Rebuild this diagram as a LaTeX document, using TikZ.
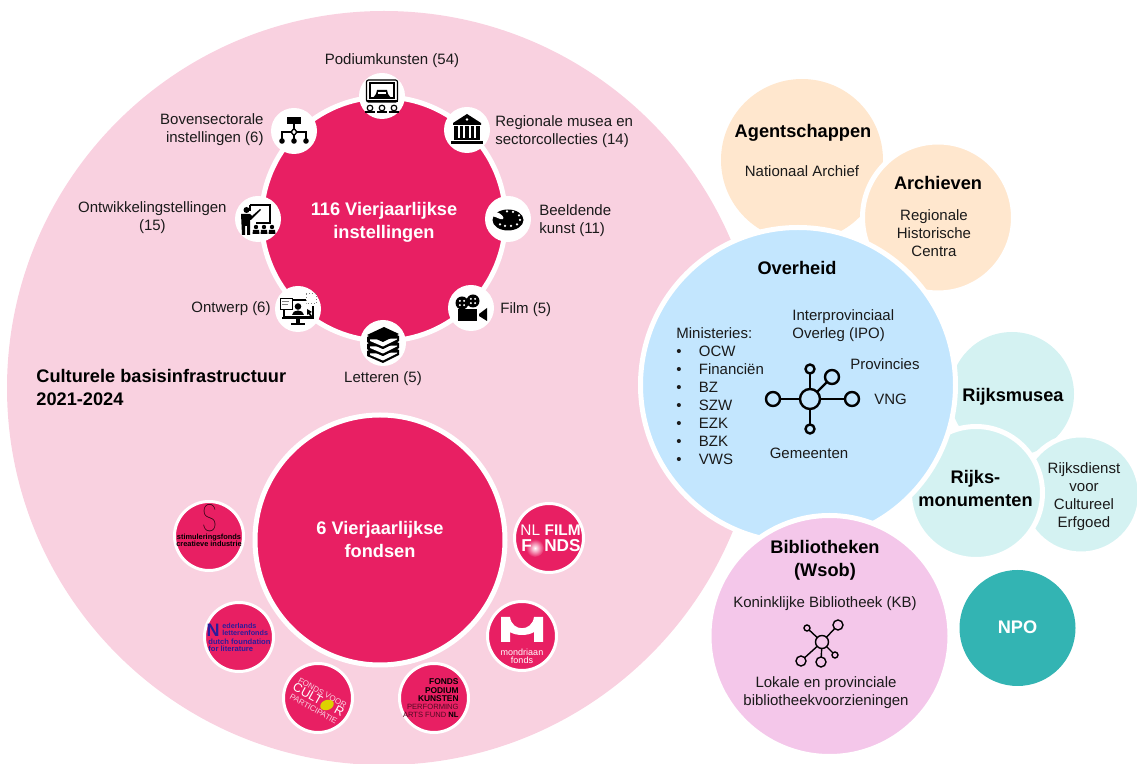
\documentclass[tikz,border=0pt]{standalone}
\usepackage{fontspec}
\setmainfont{Liberation Sans}
\newfontfamily\thinfont[UprightFont=* Thin]{Poppins}
\usetikzlibrary{positioning}
\definecolor{basispink}{HTML}{F9D1E0}
\definecolor{darkpink}{HTML}{E81F63}
\definecolor{overheidblue}{HTML}{C3E6FE}
\definecolor{archiefcream}{HTML}{FFE7CE}
\definecolor{biblilac}{HTML}{F4C7EA}
\definecolor{rijksmint}{HTML}{D4F2F2}
\definecolor{npoteal}{HTML}{33B4B3}
\definecolor{letterblue}{HTML}{2B1C9C}
\definecolor{textgray}{HTML}{1A1A1A}
\tikzset{
 bubble/.style={circle,inner sep=0pt,outer sep=0pt},
 ringed/.style={bubble,draw=white,line width=2.5pt},
 iconspot/.style={bubble,fill=white,minimum size=23pt},
 logospot/.style={bubble,draw=white,line width=1.5pt,fill=darkpink,minimum size=34.5pt},
 lbl/.style={inner sep=0pt,text=textgray,font=\fontsize{7.5}{9}\selectfont},
 head/.style={inner sep=0pt,text=black,font=\fontsize{9.1}{11.5}\selectfont\bfseries},
 whitehead/.style={head,text=white},
 hubdot/.style={circle,draw=black,fill=none,inner sep=0pt,outer sep=0pt},
 tiny/.style={inner sep=0pt,align=center}
}
\begin{document}
\begin{tikzpicture}[x=0.5pt,y=-0.5pt]
 \useasboundingbox (0,0) rectangle (1137,764);

 % big circle
 \node[bubble,fill=basispink,minimum size=377pt] (basis) at (384,388) {};
 \node[head,align=left,anchor=west] (basistitle) at (36,387) {Culturele basisinfrastructuur\\2021-2024};

 % upper circle with the icons round it
 \node[ringed,fill=darkpink,minimum size=122pt] (instellingen) at (383.5,219) {};
 \node[whitehead,align=center] (instellingentitle) at (384,222) {116 Vierjaarlijkse\\instellingen};

 \node[iconspot] (podium) at (382,96) {};
 \node[iconspot] (museum) at (467,130) {};
 \node[iconspot] (beeldend) at (508,219) {};
 \node[iconspot] (film) at (471,308) {};
 \node[iconspot] (letteren) at (383,343) {};
 \node[iconspot] (ontwerp) at (298,309) {};
 \node[iconspot] (ontwikkeling) at (258,219) {};
 \node[iconspot] (boven) at (294,131) {};

 \node[lbl,above=2.5pt of podium,xshift=5pt] {Podiumkunsten (54)};
 \node[lbl,align=left,right=2.5pt of museum,yshift=-0.75pt] {Regionale musea en\\sectorcollecties (14)};
 \node[lbl,align=left,right=4pt of beeldend,yshift=-0.75pt] {Beeldende\\kunst (11)};
 \node[lbl,right=3pt of film,yshift=-0.75pt] {Film (5)};
 \node[lbl,below=2.5pt of letteren] {Letteren (5)};
 \node[lbl,left=2pt of ontwerp] {Ontwerp (6)};
 \node[lbl,align=center,left=4pt of ontwikkeling,yshift=0.5pt] {Ontwikkelingstellingen\\(15)};
 \node[lbl,align=right,left=3.5pt of boven,yshift=0.5pt] {Bovensectorale\\instellingen (6)};

 % icon: stage with audience
 \begin{scope}[shift={(podium)},line width=0.6pt]
  \draw[rounded corners=1pt] (-15.5,-16) rectangle (15.5,6);
  \draw (-12,-13) rectangle (12,2);
  \fill (-9,2) -- (-6,-2) -- (-5,-6) -- (5,-6) -- (6,-2) -- (9,2) -- cycle;
  \fill[white] (-4,-3.5) rectangle (4,-1.5);
  \draw[line width=1.2pt] (-15.5,5) -- (15.5,5);
  \foreach \xx in {-12,0,12} {
   \draw[fill=white] (\xx,12) circle (2.8);
   \draw[line width=1pt] (\xx-5,16) -- (\xx+5,16);
  }
 \end{scope}

 % icon: organisation chart
 \begin{scope}[shift={(boven)},line width=0.7pt]
  \fill (-7,-14) rectangle (7,-7);
  \draw (0,-7) -- (0,9);
  \draw (-12,9) -- (-12,1) -- (12,1) -- (12,9);
  \draw[fill=white] (0,-2.5) -- (3,1) -- (0,4.5) -- (-3,1) -- cycle;
  \foreach \xx in {-12,0,12} \fill (\xx,10) circle (2.8);
 \end{scope}

 % icon: museum
 \begin{scope}[shift={(museum)}]
  \fill (0,-16) -- (14,-7) -- (14,-5) -- (-14,-5) -- (-14,-7) -- cycle;
  \foreach \xx in {-11,-5.5,0,5.5,11} \fill (\xx-1.6,-3.5) rectangle (\xx+1.6,8);
  \fill (-13,8) rectangle (13,10);
  \fill (-16,11) rectangle (16,14);
  \fill[white] (0,-10.5) circle (1.4);
 \end{scope}

 % icon: palette
 \begin{scope}[shift={(beeldend)}]
  \fill (0,1) ellipse (15.5 and 10.5);
  \fill[white] (-16,-3) .. controls (-11,-2) and (-8,1) .. (-5,0) .. controls (-3,-1) and (-7,-6) .. (-12,-7) -- cycle;
  \foreach \xx/\yy in {-1/-7.5,5/-7,11/-3.5,12/1,9/5.5,3/7,-3/7,-8/5.5} \fill[white] (\xx,\yy) circle (1.25);
 \end{scope}

 % icon: film camera
 \begin{scope}[shift={(film)}]
  \foreach \xx/\yy in {-9/-5,2/-7} {
   \fill (\xx,\yy) circle (6.5);
   \foreach \ang in {45,135,225,315} \fill[white] (\xx,\yy) ++(\ang:3) circle (1.1);
  }
  \fill (-13,1) rectangle (6,13);
  \fill (8,6) -- (16,0) -- (16,13) -- (8,8) -- cycle;
 \end{scope}

 % icon: books
 \begin{scope}[shift={(letteren)}]
  \foreach \dd in {14,7,0} {
   \fill (-16,-6+\dd) -- (1,-14+\dd) -- (16,-7+\dd) -- (16,-2+\dd) -- (0,6+\dd) -- (-16,-1+\dd) -- cycle;
   \fill[white] (-13,-3.5+\dd) -- (14,-4.5+\dd) -- (14,-3.5+\dd) -- (0,3.5+\dd) -- (-13,-2+\dd) -- cycle;
   \fill (-16,-8+\dd) -- (1,-16+\dd) -- (16,-9+\dd) -- (0,-1+\dd) -- cycle;
  }
 \end{scope}

 % icon: screen with person
 \begin{scope}[shift={(ontwerp)}]
  \draw[line width=1pt] (-14,-9) rectangle (15,8);
  \fill (-16,8) rectangle (16,10);
  \fill (-2,10) rectangle (2,14);
  \fill (-7,14) rectangle (7,16);
  \draw[fill=white,line width=0.5pt] (-18,-10) rectangle (-6,1);
  \draw[gray,line width=0.5pt] (-16,-7) -- (-9,-7) (-16,-4) -- (-10,-4);
  \fill (0,-2.5) circle (3.3);
  \fill (-6,6) .. controls (-6,0) and (6,0) .. (6,6) -- cycle;
  \draw[white,fill=white] (8,-14) rectangle (18,-4);
  \draw[densely dotted,line width=0.5pt,gray] (8,-15) rectangle (18,-5);
  \fill (9,0) -- (14,3) -- (12,4) -- (14,7) -- (12.5,7.5) -- (10.5,5) -- (9,6) -- cycle;
 \end{scope}

 % icon: teacher at a board
 \begin{scope}[shift={(ontwikkeling)}]
  \draw[line width=0.9pt] (-8,-14) -- (12,-14) -- (12,4) -- (-2,4);
  \draw[line width=0.9pt] (-8,-14) -- (-8,-8);
  \fill (-11.5,-9) circle (3);
  \fill (-17,-5) -- (-8,-5) -- (-6,-3) -- (2,-10) -- (3,-9) -- (-7,1) -- (-8,1) -- (-8,16) -- (-11,16) -- (-11,7) -- (-13,7) -- (-13,16) -- (-16,16) -- cycle;
  \foreach \xx in {-2,6,14} {
   \fill (\xx,8) circle (2.2);
   \fill (\xx-3.5,15) -- (\xx-3,11) -- (\xx+3,11) -- (\xx+3.5,15) -- cycle;
  }
 \end{scope}

 % lower circle with the logos
 \node[ringed,fill=darkpink,minimum size=125pt] (fondsen) at (380,540) {};
 \node[whitehead,align=center] (fondsentitle) at (380,539.5) {6 Vierjaarlijkse\\fondsen};

 \node[logospot] (stimulering) at (209,536) {};
 \node[logospot] (letterenfonds) at (239,637) {};
 \node[logospot] (cultuur) at (318,698) {};
 \node[logospot] (podiumfonds) at (434,698) {};
 \node[logospot] (mondriaan) at (522,636) {};
 \node[logospot] (filmfonds) at (549,538) {};

 \node[tiny,font=\fontsize{19}{19}\selectfont\thinfont,xscale=0.72] (stimS) at (210,518) {S};
 \node[tiny,text=black,font=\fontsize{3.7}{3.6}\selectfont\bfseries] (stimname) at (209,540.5) {stimuleringsfonds\\creatieve industrie};

 \node[tiny,anchor=center,text=letterblue,font=\fontsize{9}{9}\selectfont\bfseries] (nlN) at (213,630) {N};
 \node[tiny,align=left,anchor=west,text=letterblue,font=\fontsize{3.6}{3.5}\selectfont\bfseries] (nlA) at (222,629.5) {ederlands\\letterenfonds};
 \node[tiny,align=left,anchor=west,text=letterblue,font=\fontsize{3.8}{3.5}\selectfont\bfseries] (nlC) at (208,645.5) {dutch foundation\\for literature};

 \node[tiny,rotate=-29,text=basispink,font=\fontsize{4}{4.6}\selectfont] (cultuurtext) at (318,701)
  {FONDS VOOR\\{\color{white}\fontsize{6.2}{4.6}\selectfont CULT\hspace{8pt}R}\\PARTICIPATIE};
 \fill[yellow!70!olive,rotate around={20:(327,705)}] (327,705) ellipse (7 and 5);

 \node[tiny,align=right,anchor=east,text=black,font=\fontsize{4.2}{4.2}\selectfont\bfseries] (fpA) at (459,690.5) {FONDS\\PODIUM\\KUNSTEN};
 \node[tiny,align=right,anchor=east,text=black!65!darkpink,font=\fontsize{3.8}{3.9}\selectfont] (fpD) at (459,711) {PERFORMING\\ARTS FUND {\color{black}\bfseries NL}};

 \fill[white] (501,617) -- (510,617) .. controls (512,632) and (532,632) .. (534,617) -- (543,617) -- (543,642) -- (534,642) -- (534,632) .. controls (528,636) and (516,636) .. (510,632) -- (510,642) -- (501,642) -- cycle;
 \node[tiny,text=white,font=\fontsize{4.5}{4}\selectfont] (mondA) at (522,656) {mondriaan\\fonds};

 \shade[inner color=white,outer color=darkpink] (535,548) circle (9);
 \node[tiny,anchor=west,text=white,font=\fontsize{7.7}{8}\selectfont] (ffNL) at (520,530) {NL};
 \node[tiny,anchor=east,text=white,font=\fontsize{7.7}{8}\selectfont\bfseries] (ffFILM) at (581,530) {FILM};
 \node[tiny,anchor=west,text=white,font=\fontsize{8.6}{8}\selectfont\bfseries] (ffF) at (521,546) {F};
 \node[tiny,anchor=east,text=white,font=\fontsize{8.6}{8}\selectfont\bfseries] (ffNDS) at (581,546) {NDS};

 % circles on the right
 \node[bubble,fill=archiefcream,minimum size=81pt] (agent) at (802,160) {};
 \node[ringed,fill=archiefcream,minimum size=75.5pt] (archief) at (938,217.5) {};
 \node[bubble,fill=rijksmint,minimum size=62pt] (musea) at (1012,394) {};
 \node[ringed,fill=rijksmint,minimum size=59.5pt] (dienst) at (1081,494.5) {};
 \node[ringed,fill=rijksmint,minimum size=66.5pt] (monument) at (976,493) {};
 \node[ringed,fill=overheidblue,minimum size=157.5pt] (overheid) at (798,385) {};
 \node[ringed,fill=biblilac,minimum size=120.5pt] (bieb) at (829.5,636) {};
 \node[bubble,fill=npoteal,minimum size=58pt] (npo) at (1017.5,628) {};

 \node[head] (agenttitle) at (803,132.5) {Agentschappen};
 \node[lbl] (agentsub) at (802,171) {Nationaal Archief};
 \node[head] (archieftitle) at (938,183) {Archieven};
 \node[lbl,align=center] (archiefsub) at (934,233) {Regionale\\Historische\\Centra};
 \node[head] (overheidtitle) at (797,268) {Overheid};
 \node[lbl,align=left,anchor=west] (ipo) at (792,325.5) {Interprovinciaal\\Overleg (IPO)};
 \node[lbl,align=left,anchor=north west] (ministeries) at (676,327) {Ministeries:\\
  \textbullet\hspace{8.6pt}OCW\\ \textbullet\hspace{8.6pt}Financiën\\ \textbullet\hspace{8.6pt}BZ\\ \textbullet\hspace{8.6pt}SZW\\
  \textbullet\hspace{8.6pt}EZK\\ \textbullet\hspace{8.6pt}BZK\\ \textbullet\hspace{8.6pt}VWS};
 \node[lbl,anchor=west] (provincies) at (850,364) {Provincies};
 \node[lbl,anchor=west] (vng) at (874,399) {VNG};
 \node[lbl] (gemeenten) at (809,453) {Gemeenten};

 % network in the blue circle
 \node[hubdot,line width=1.2pt,minimum size=10pt] (hub) at (810,399) {};
 \node[hubdot,line width=1.2pt,minimum size=4.5pt] (nettop) at (810,369) {};
 \node[hubdot,line width=1.2pt,minimum size=7pt] (netprov) at (832,377) {};
 \node[hubdot,line width=1.2pt,minimum size=7pt] (netvng) at (852,399) {};
 \node[hubdot,line width=1.2pt,minimum size=7pt] (netleft) at (773,399) {};
 \node[hubdot,line width=1.2pt,minimum size=4.5pt] (netbottom) at (810,429) {};
 \foreach \leaf in {nettop,netprov,netvng,netleft,netbottom}
  \draw[line width=1.2pt] (hub) -- (\leaf);

 \node[head,align=center] (biebtitle) at (825,560) {Bibliotheken\\(Wsob)};
 \node[lbl] (kb) at (825,604) {Koninklijke Bibliotheek (KB)};
 \node[lbl,align=center] (lokaal) at (826,693) {Lokale en provinciale\\bibliotheekvoorzieningen};

 % network in the library circle
 \node[hubdot,line width=0.7pt,minimum size=6.5pt] (libhub) at (822,642) {};
 \node[hubdot,line width=0.7pt,minimum size=3pt] (libA) at (807,628) {};
 \node[hubdot,line width=0.7pt,minimum size=5pt] (libB) at (838,625) {};
 \node[hubdot,line width=0.7pt,minimum size=3pt] (libC) at (835,655) {};
 \node[hubdot,line width=0.7pt,minimum size=5pt] (libD) at (821,662) {};
 \node[hubdot,line width=0.7pt,minimum size=5pt] (libE) at (801,661) {};
 \foreach \leaf in {libA,libB,libC,libD,libE}
  \draw[line width=0.7pt] (libhub) -- (\leaf);

 \node[head] (museatitle) at (1013,396.5) {Rijksmusea};
 \node[head,align=center] (monumenttitle) at (975.5,488.5) {Rijks-\\monumenten};
 \node[lbl,align=center] (diensttext) at (1084,497) {Rijksdienst\\voor\\Cultureel\\Erfgoed};
 \node[whitehead] (npotitle) at (1017.5,627) {NPO};
\end{tikzpicture}
\end{document}
